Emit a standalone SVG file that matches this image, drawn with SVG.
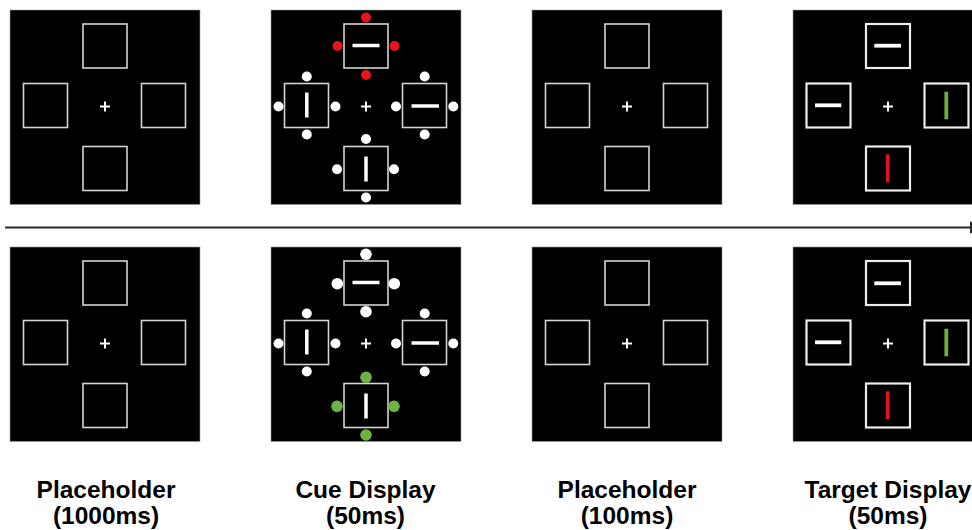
<svg xmlns="http://www.w3.org/2000/svg" width="972" height="530" viewBox="0 0 972 530">
  <style>
    .screen { fill: #000; stroke: #9a9a9a; stroke-width: 0.6; }
    .box { fill: none; stroke: #d4d4d4; stroke-width: 1.6; }
    .box-t { fill: none; stroke: #ececec; stroke-width: 2.2; }
    .fix { stroke: #fff; stroke-width: 2; }
    .bar { stroke: #fff; stroke-width: 3.5; stroke-linecap: butt; }
    .bar-r { stroke: #e0141b; stroke-width: 3.8; }
    .bar-g { stroke: #6fae45; stroke-width: 3.8; }
    .dot { fill: #fff; }
    .dot-r { fill: #e8141c; }
    .dot-g { fill: #6db344; }
    .timeline { stroke: #2a2a2a; stroke-width: 2.2; fill: none; }
    .label { font-family: "Liberation Sans", Arial, sans-serif; font-weight: bold; font-size: 24.5px; fill: #000; text-anchor: middle; }
  </style>
  <defs>
    <!-- empty placeholder frame: four boxes around a fixation cross -->
    <g id="frame">
      <rect class="screen" x="0" y="0" width="190" height="194.5"/>
      <rect class="box" x="73" y="14" width="44" height="44"/>
      <rect class="box" x="13.5" y="73.5" width="44" height="44"/>
      <rect class="box" x="131.5" y="73.5" width="44" height="44"/>
      <rect class="box" x="73" y="136.5" width="44" height="44"/>
      <path class="fix" d="M90,96.5 H100 M95,91.5 V101.5"/>
    </g>
    <!-- bold-framed variant used for the target screen -->
    <g id="frame-t">
      <rect class="screen" x="0" y="0" width="190" height="194.5"/>
      <rect class="box-t" x="73" y="14" width="44" height="44"/>
      <rect class="box-t" x="13.5" y="73.5" width="44" height="44"/>
      <rect class="box-t" x="131.5" y="73.5" width="44" height="44"/>
      <rect class="box-t" x="73" y="136.5" width="44" height="44"/>
      <path class="fix" d="M90,96.5 H100 M95,91.5 V101.5"/>
    </g>
    <!-- cue screen contents: bars inside the boxes -->
    <g id="cue-bars">
      <line class="bar" x1="81.5" y1="35.5" x2="108.5" y2="35.5"/>
      <line class="bar" x1="35.8" y1="82.5" x2="35.8" y2="107.5"/>
      <line class="bar" x1="140.5" y1="96" x2="168" y2="96"/>
      <line class="bar" x1="95" y1="146.5" x2="95" y2="171.5"/>
    </g>
  </defs>

  <!-- top row -->
  <g id="placeholder-1-top" transform="translate(10,10)">
    <use href="#frame"/>
  </g>

  <g id="cue-top" transform="translate(271,10)">
    <use href="#frame"/>
    <use href="#cue-bars"/>
    <!-- red cue dots on the upper box -->
    <circle class="dot-r" cx="95" cy="7.5" r="5"/>
    <circle class="dot-r" cx="66.5" cy="36" r="5"/>
    <circle class="dot-r" cx="123.5" cy="36" r="5"/>
    <circle class="dot-r" cx="95" cy="65" r="5"/>
    <!-- left box -->
    <circle class="dot" cx="35.8" cy="66.5" r="5"/>
    <circle class="dot" cx="35.8" cy="124.5" r="5"/>
    <circle class="dot" cx="7.5" cy="96.5" r="5"/>
    <circle class="dot" cx="64.5" cy="96.5" r="5"/>
    <!-- right box -->
    <circle class="dot" cx="153.7" cy="66.5" r="5"/>
    <circle class="dot" cx="153.7" cy="124.5" r="5"/>
    <circle class="dot" cx="125" cy="96.5" r="5"/>
    <circle class="dot" cx="182.3" cy="96.5" r="5"/>
    <!-- lower box -->
    <circle class="dot" cx="95" cy="129" r="5"/>
    <circle class="dot" cx="95" cy="187.5" r="5"/>
    <circle class="dot" cx="66" cy="159.3" r="5"/>
    <circle class="dot" cx="123" cy="159.3" r="5"/>
  </g>

  <g id="placeholder-2-top" transform="translate(532,10)">
    <use href="#frame"/>
  </g>

  <g id="target-top" transform="translate(793,10)">
    <use href="#frame-t"/>
    <line class="bar" x1="81.3" y1="35.7" x2="108" y2="35.7" style="stroke-width:3.8"/>
    <line class="bar" x1="22" y1="95.3" x2="48.3" y2="95.3" style="stroke-width:3.8"/>
    <line class="bar-g" x1="153.3" y1="81.7" x2="153.3" y2="109.3"/>
    <line class="bar-r" x1="94.7" y1="144.3" x2="94.7" y2="172.3"/>
  </g>

  <!-- time axis -->
  <g id="connectors">
    <line class="timeline" x1="5" y1="227.5" x2="971" y2="227.5"/>
    <polygon points="970,221.5 992,227.5 970,233.5" fill="#2a2a2a"/>
  </g>

  <!-- bottom row -->
  <g id="placeholder-1-bottom" transform="translate(10,247)">
    <use href="#frame"/>
  </g>

  <g id="cue-bottom" transform="translate(271,247)">
    <use href="#frame"/>
    <use href="#cue-bars"/>
    <!-- upper box: large white dots -->
    <circle class="dot" cx="95" cy="7.3" r="5.8"/>
    <circle class="dot" cx="66.3" cy="36.7" r="5.8"/>
    <circle class="dot" cx="123.3" cy="36.7" r="5.8"/>
    <circle class="dot" cx="95" cy="64.7" r="5.8"/>
    <!-- left box -->
    <circle class="dot" cx="35.8" cy="66.5" r="5"/>
    <circle class="dot" cx="35.8" cy="124.5" r="5"/>
    <circle class="dot" cx="7.5" cy="96.5" r="5"/>
    <circle class="dot" cx="64.5" cy="96.5" r="5"/>
    <!-- right box -->
    <circle class="dot" cx="153.7" cy="66.5" r="5"/>
    <circle class="dot" cx="153.7" cy="124.5" r="5"/>
    <circle class="dot" cx="125" cy="96.5" r="5"/>
    <circle class="dot" cx="182.3" cy="96.5" r="5"/>
    <!-- lower box: green cue dots -->
    <circle class="dot-g" cx="95" cy="130.3" r="5.8"/>
    <circle class="dot-g" cx="95" cy="188" r="5.8"/>
    <circle class="dot-g" cx="66" cy="159.3" r="5.8"/>
    <circle class="dot-g" cx="123" cy="159.3" r="5.8"/>
  </g>

  <g id="placeholder-2-bottom" transform="translate(532,247)">
    <use href="#frame"/>
  </g>

  <g id="target-bottom" transform="translate(793,247)">
    <use href="#frame-t"/>
    <line class="bar" x1="81.3" y1="36.3" x2="108" y2="36.3" style="stroke-width:3.8"/>
    <line class="bar" x1="22" y1="95.3" x2="48.3" y2="95.3" style="stroke-width:3.8"/>
    <line class="bar-g" x1="153.3" y1="81.7" x2="153.3" y2="109.3"/>
    <line class="bar-r" x1="94.7" y1="144.3" x2="94.7" y2="172.3"/>
  </g>

  <!-- step captions -->
  <g id="captions">
    <text class="label" x="106" y="498">Placeholder</text>
    <text class="label" x="106" y="523.5">(1000ms)</text>
    <text class="label" x="365.5" y="498">Cue Display</text>
    <text class="label" x="365.5" y="523.5">(50ms)</text>
    <text class="label" x="627" y="498">Placeholder</text>
    <text class="label" x="627" y="523.5">(100ms)</text>
    <text class="label" x="888" y="498">Target Display</text>
    <text class="label" x="888" y="523.5">(50ms)</text>
  </g>
</svg>
